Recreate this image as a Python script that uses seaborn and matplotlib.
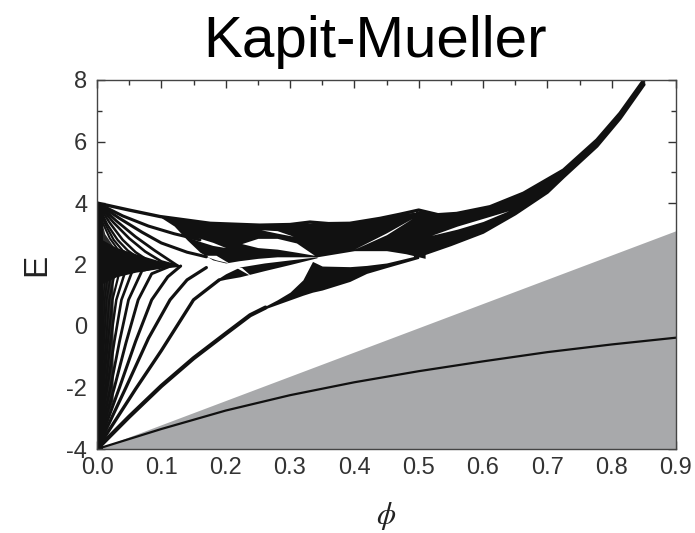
import numpy as np
import matplotlib
matplotlib.use("Agg")
import matplotlib.pyplot as plt
import seaborn as sns

# ---------------- spectrum data (phi = flux per plaquette, E = energy) ----------------
# lowest Landau level
lll_phi = [0.0, 0.1, 0.2, 0.3, 0.4, 0.5, 0.6, 0.7, 0.8, 0.9]
lll_E = [-4.0, -3.35, -2.75, -2.25, -1.83, -1.47, -1.15, -0.85, -0.6, -0.38]

# shaded region under the straight bound
shade_phi = [0.0, 0.9]
shade_top = [-4.0, 3.1]

# upper envelope of the spectrum
env_phi = [0.0, 0.05, 0.098, 0.176, 0.253, 0.3, 0.331, 0.36, 0.393, 0.44, 0.47, 0.5,
           0.53, 0.559, 0.611, 0.663, 0.725, 0.777, 0.813, 0.85]
env_E = [4.0, 3.77, 3.56, 3.34, 3.28, 3.3, 3.38, 3.33, 3.34, 3.5, 3.63, 3.77,
         3.62, 3.66, 3.88, 4.32, 5.07, 6.05, 6.92, 8.0]

# upper wing of the butterfly: lower edge
wing_phi = [0.1, 0.12, 0.14, 0.16, 0.18, 0.2, 0.22, 0.25, 0.28, 0.342, 0.4, 0.45, 0.48, 0.51]
wing_lo = [3.52, 3.25, 2.8, 2.4, 2.15, 2.05, 2.12, 2.2, 2.25, 2.25, 2.45, 2.45, 2.35, 2.2]

# right branch (phi > 0.5): lower edge
right_phi = [0.495, 0.55, 0.6, 0.65, 0.7, 0.725, 0.777, 0.813, 0.85]
right_lo = [2.25, 2.65, 3.05, 3.65, 4.35, 4.85, 5.85, 6.75, 7.85]

# first excited level widening into a band
band1_phi = [0.26, 0.28, 0.3, 0.32, 0.335, 0.35, 0.393, 0.419, 0.45, 0.5]
band1_lo = [0.55, 0.7, 0.85, 1.0, 1.1, 1.17, 1.45, 1.71, 1.9, 2.2]
band1_hi = [0.63, 0.85, 1.1, 1.5, 2.1, 1.95, 1.93, 1.97, 2.05, 2.3]

# second excited level widening into the lower-left arm of the crossing at 1/3
band2_phi = [0.185, 0.2, 0.222, 0.26, 0.3, 0.342]
band2_lo = [1.45, 1.52, 1.6, 1.8, 2.0, 2.22]
band2_hi = [1.5, 1.7, 1.92, 2.05, 2.15, 2.25]

# dense belt where the two fans meet
belt_phi = [0.0, 0.03, 0.06, 0.1, 0.13]
belt_lo = [1.3, 1.6, 1.75, 1.88, 1.94]
belt_hi = [2.9, 2.55, 2.35, 2.1, 1.98]

# dark, finely striped strip at very small flux
strip_phi = [0.0, 0.012, 0.025]
strip_lo = [-4.0, -3.2, -2.4]
strip_hi = [4.0, 3.0, 2.6]

# gaps inside the bands
lensA_phi = [0.225, 0.25, 0.28, 0.31, 0.338]
lensA_lo = [2.68, 2.55, 2.5, 2.4, 2.3]
lensA_hi = [2.68, 2.85, 2.85, 2.7, 2.3]

lensB_phi = [0.255, 0.28, 0.305]
lensB_lo = [3.13, 3.02, 2.92]
lensB_hi = [3.13, 3.1, 2.92]

lensC_phi = [0.52, 0.56, 0.6, 0.64]
lensC_lo = [2.95, 3.15, 3.4, 3.75]
lensC_hi = [2.95, 3.25, 3.5, 3.75]

lensD_phi = [0.4, 0.45, 0.49]
lensD_lo = [2.5, 2.97, 3.5]
lensD_hi = [2.5, 3.03, 3.5]

lensE_phi = [0.165, 0.185, 0.205]
lensE_lo = [2.3, 2.15, 2.05]
lensE_hi = [2.3, 2.3, 2.05]

lensF_phi = [0.21, 0.225, 0.24]
lensF_lo = [1.98, 1.8, 1.62]
lensF_hi = [1.98, 1.9, 1.62]

lensG_phi = [0.14, 0.16, 0.18, 0.2]
lensG_lo = [2.9, 2.75, 2.62, 2.55]
lensG_hi = [2.9, 2.85, 2.72, 2.55]

# Landau fan rising from the band bottom (phi, E)
fan_low = [
    ([0.0, 0.05, 0.1, 0.15, 0.2, 0.238, 0.262], [-4.0, -2.95, -1.95, -1.05, -0.25, 0.35, 0.6]),
    ([0.0, 0.06, 0.1, 0.15, 0.19], [-4.0, -2.05, -0.8, 0.85, 1.5]),
    ([0.0, 0.045, 0.08, 0.1135, 0.14, 0.17], [-4.0, -2.0, -0.4, 0.85, 1.5, 1.9]),
    ([0.0, 0.035, 0.06, 0.085, 0.11, 0.13], [-4.0, -2.0, -0.5, 0.85, 1.6, 1.95]),
    ([0.0, 0.027, 0.045, 0.064, 0.085, 0.12], [-4.0, -2.0, -0.55, 0.85, 1.7, 2.0]),
    ([0.0, 0.021, 0.035, 0.049, 0.07, 0.11], [-4.0, -2.0, -0.5, 0.85, 1.8, 2.0]),
    ([0.0, 0.016, 0.027, 0.038, 0.056, 0.1], [-4.0, -2.0, -0.5, 0.85, 1.85, 2.05]),
    ([0.0, 0.013, 0.021, 0.03, 0.045, 0.09], [-4.0, -2.0, -0.5, 0.85, 1.85, 2.05]),
    ([0.0, 0.01, 0.017, 0.024, 0.036, 0.08], [-4.0, -2.0, -0.5, 0.85, 1.85, 2.05]),
    ([0.0, 0.008, 0.014, 0.019, 0.029, 0.07], [-4.0, -2.0, -0.5, 0.85, 1.85, 2.05]),
    ([0.0, 0.0065, 0.011, 0.015, 0.023, 0.06], [-4.0, -2.0, -0.5, 0.85, 1.85, 2.05]),
    ([0.0, 0.0052, 0.009, 0.012, 0.018, 0.05], [-4.0, -2.0, -0.5, 0.85, 1.85, 2.05]),
    ([0.0, 0.0042, 0.0072, 0.0095, 0.014, 0.04], [-4.0, -2.0, -0.5, 0.85, 1.85, 2.05]),
]
fan_low_width = [3.0, 2.4, 2.3, 2.2, 2.1, 2.0, 1.9, 1.8, 1.6, 1.5, 1.4, 1.3, 1.2]

# Landau fan descending from the band top
fan_high = [
    ([0.0, 0.04, 0.08, 0.12, 0.16], [4.0, 3.58, 3.25, 3.0, 2.8]),
    ([0.0, 0.035, 0.07, 0.1, 0.14, 0.17], [4.0, 3.5, 3.05, 2.7, 2.4, 2.25]),
    ([0.0, 0.03, 0.06, 0.09, 0.126], [4.0, 3.42, 2.9, 2.45, 1.95]),
    ([0.0, 0.025, 0.05, 0.075, 0.1, 0.126], [4.0, 3.38, 2.85, 2.42, 2.1, 1.95]),
    ([0.0, 0.02, 0.04, 0.06, 0.08, 0.11], [4.0, 3.35, 2.8, 2.4, 2.12, 1.95]),
    ([0.0, 0.016, 0.032, 0.048, 0.065, 0.09], [4.0, 3.3, 2.8, 2.45, 2.2, 2.0]),
    ([0.0, 0.013, 0.026, 0.04, 0.06], [4.0, 3.3, 2.8, 2.45, 2.2]),
    ([0.0, 0.01, 0.02, 0.032, 0.05], [4.0, 3.3, 2.85, 2.5, 2.3]),
]
fan_high_width = [2.2, 2.2, 2.0, 1.9, 1.8, 1.7, 1.6, 1.5]

# zero-flux band
zero_phi = [0.0, 0.009]

# axis labelling
x_ticks = [0.0, 0.1, 0.2, 0.3, 0.4, 0.5, 0.6, 0.7, 0.8, 0.9]
y_ticks = [-4, -2, 0, 2, 4, 6, 8]

# ---------------- drawing ----------------
sns.set_theme(style="ticks")
plt.rcParams["font.family"] = ["Liberation Sans", "DejaVu Sans"]
plt.rcParams["mathtext.fontset"] = "stix"

fig = plt.figure(figsize=(6.95, 5.33), dpi=100)
ax = fig.add_axes([97 / 695, 1 - 449 / 533, 579 / 695, 369 / 533])

ink = "#111111"
grey = "#a8a9ab"

ax.fill_between(shade_phi, [-4.0, -4.0], shade_top, color=grey, lw=0, zorder=1)

ax.fill_between(strip_phi, strip_lo, strip_hi, color="#2a2a2a", lw=0, zorder=2)
ax.fill_between(zero_phi, [-4.0, -4.0], [4.0, 4.0], color=ink, lw=0, zorder=2)
ax.fill_between(belt_phi, belt_lo, belt_hi, color=ink, lw=0, zorder=2)

wing_hi = np.interp(wing_phi, env_phi, env_E)
ax.fill_between(wing_phi, wing_lo, wing_hi, color=ink, lw=0, zorder=2)
right_hi = np.interp(right_phi, env_phi, env_E)
ax.fill_between(right_phi, right_lo, right_hi, color=ink, lw=0, zorder=2)
ax.fill_between(band1_phi, band1_lo, band1_hi, color=ink, lw=0, zorder=2)
ax.fill_between(band2_phi, band2_lo, band2_hi, color=ink, lw=0, zorder=2)

for ph, lo, hi in [(lensA_phi, lensA_lo, lensA_hi), (lensB_phi, lensB_lo, lensB_hi),
                   (lensC_phi, lensC_lo, lensC_hi), (lensD_phi, lensD_lo, lensD_hi),
                   (lensE_phi, lensE_lo, lensE_hi), (lensF_phi, lensF_lo, lensF_hi),
                   (lensG_phi, lensG_lo, lensG_hi)]:
    ax.fill_between(ph, lo, hi, color="white", lw=0, zorder=3)

sns.lineplot(x=env_phi, y=env_E, color=ink, lw=2.4, ax=ax, sort=False, zorder=4)
sns.lineplot(x=right_phi, y=right_lo, color=ink, lw=2.4, ax=ax, sort=False, zorder=4)

for (ph, e), w in zip(fan_low, fan_low_width):
    sns.lineplot(x=ph, y=e, color=ink, lw=w, ax=ax, sort=False, zorder=4)
for (ph, e), w in zip(fan_high, fan_high_width):
    sns.lineplot(x=ph, y=e, color=ink, lw=w, ax=ax, sort=False, zorder=4)

sns.lineplot(x=lll_phi, y=lll_E, color=ink, lw=1.6, ax=ax, sort=False, zorder=5)

ax.set_xlim(0.0, 0.9)
ax.set_ylim(-4, 8)
ax.set_xticks(x_ticks)
ax.set_xticklabels([f"{t:.1f}" for t in x_ticks])
ax.set_yticks(y_ticks)
ax.set_yticklabels([str(t) for t in y_ticks])
ax.set_xticks(np.arange(0.05, 0.9, 0.1), minor=True)
ax.set_yticks([-3, -1, 1, 3, 5, 7], minor=True)
ax.tick_params(which="both", direction="in", top=True, right=True,
               colors="#333333", labelsize=17, width=1.0)
ax.tick_params(axis="x", which="major", pad=6)
ax.tick_params(axis="y", which="major", pad=7)
ax.tick_params(which="major", length=6)
ax.tick_params(which="minor", length=3.5)
for s in ax.spines.values():
    s.set_color("#444444")
    s.set_linewidth(1.0)
    s.set_zorder(6)

ax.set_xlabel(r"$\phi$", fontsize=22, color="#222222", labelpad=15)
ax.set_ylabel("E", fontsize=24, color="#222222", labelpad=10)
fig.text(375 / 695, 1 - 57 / 533, "Kapit-Mueller", fontsize=42, color="black",
         ha="center", va="baseline")

fig.savefig("out.png", dpi=100)
